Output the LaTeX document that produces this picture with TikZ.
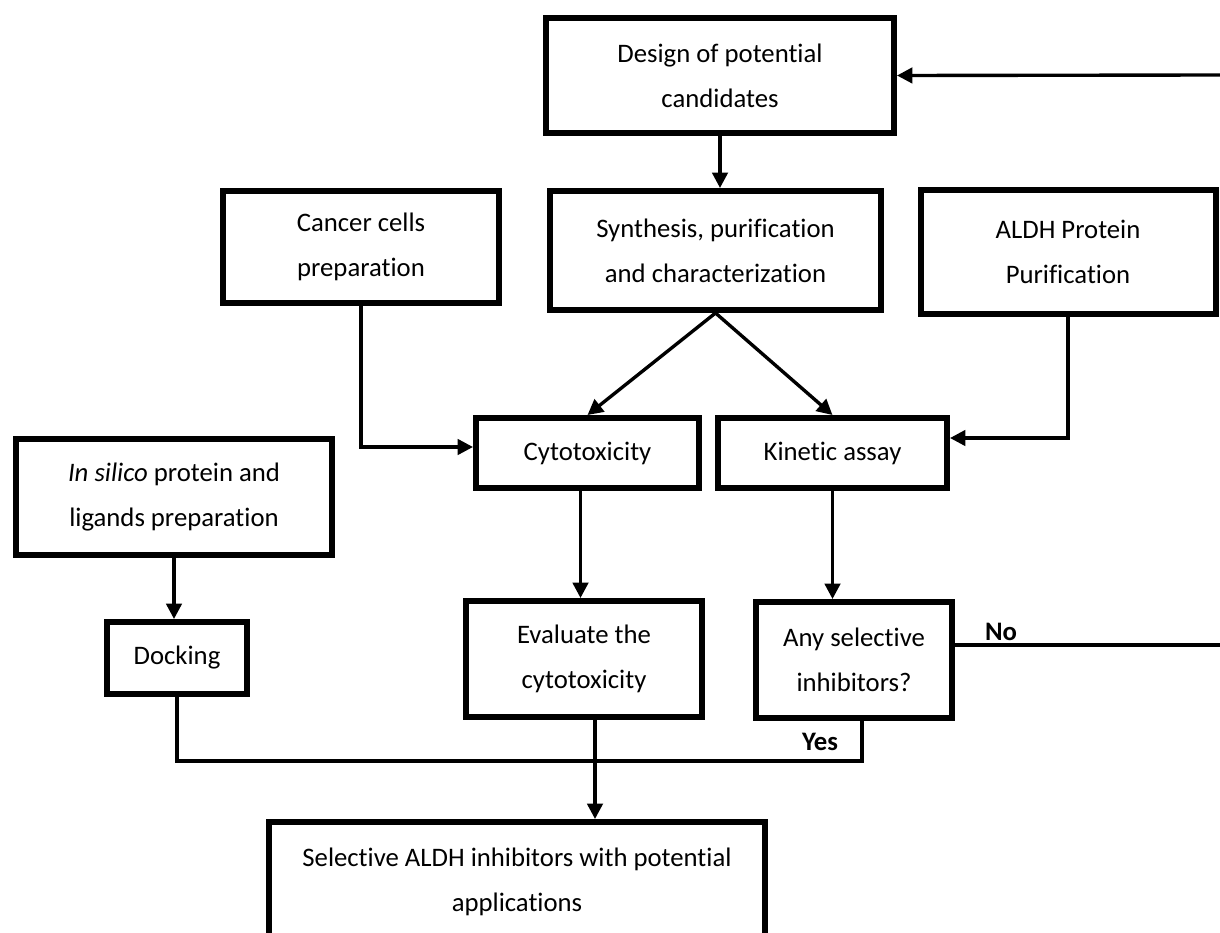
\documentclass[tikz,border=0pt]{standalone}
\usepackage{fontspec}
\setmainfont[Ligatures={NoCommon,NoRare},RawFeature={-liga,-clig,-dlig}]{Carlito}
\usetikzlibrary{arrows.meta,calc}

\tikzset{
  stage/.style={draw, line width=4.25pt, align=center, inner sep=0pt,
    font=\fontsize{19}{32}\selectfont},
  link/.style={line width=2.4pt},
  arr/.style={link, -{Triangle[length=11pt,width=11pt]}},
  tag/.style={font=\fontsize{19}{22}\selectfont\bfseries}
}

\begin{document}
\begin{tikzpicture}[x=0.025cm,y=-0.025cm]
\useasboundingbox (0,0) rectangle (1220,932);

% Boxes
\node[stage, minimum width=348*0.025cm, minimum height=115*0.025cm] (design) at (720,75.5) {Design of potential\\candidates};
\node[stage, minimum width=331*0.025cm, minimum height=119*0.025cm] (synth) at (715.5,250.5) {Synthesis, purification\\and characterization};
\node[stage, minimum width=276*0.025cm, minimum height=112*0.025cm] (cancer) at (361,247) {Cancer cells\\preparation};
\node[stage, minimum width=295*0.025cm, minimum height=124*0.025cm] (aldh) at (1068,252) {ALDH Protein\\Purification};
\node[stage, minimum width=223*0.025cm, minimum height=70*0.025cm] (cyto) at (587.5,453) {Cytotoxicity};
\node[stage, minimum width=229*0.025cm, minimum height=70*0.025cm] (kinetic) at (832.5,453) {Kinetic assay};
\node[stage, minimum width=316*0.025cm, minimum height=116*0.025cm] (insilico) at (174,497) {\textit{In silico} protein and\\ligands preparation};
\node[stage, minimum width=140*0.025cm, minimum height=72*0.025cm] (docking) at (177,658) {Docking};
\node[stage, minimum width=236*0.025cm, minimum height=116*0.025cm] (evaluate) at (584,659) {Evaluate the\\cytotoxicity};
\node[stage, minimum width=196*0.025cm, minimum height=116*0.025cm] (anysel) at (854,660) {Any selective\\inhibitors?};
\node[stage, minimum width=496*0.025cm, minimum height=120*0.025cm] (result) at (517,882) {Selective ALDH inhibitors with potential\\applications};

% Helper points
\coordinate (back) at (1222,75);
\coordinate (cytoout) at ($(cyto.south)+(-7,0)$);
\coordinate (evalout) at ($(evaluate.south)+(11,0)$);
\coordinate (noout) at ($(anysel.east)+(0,-15)$);
\coordinate (noend) at (1222,645);
\coordinate (yesout) at ($(anysel.south)+(8,0)$);
\coordinate (yesturn) at ($(anysel.south)+(8,40)$);

% Connectors
\draw[arr] (back) -- (design.east);
\draw[arr] (design.south) -- (design.south |- synth.north);
\draw[arr] (synth.south) -- (cyto.north);
\draw[arr] (synth.south) -- (kinetic.north);
\draw[arr] (cancer.south) |- ($(cyto.west)+(0,-6)$);
\draw[arr] (aldh.south) |- ($(kinetic.east)+(0,-15)$);
\draw[arr] (cytoout) -- (cytoout |- evaluate.north);
\draw[arr] (kinetic.south) -- (kinetic.south |- anysel.north);
\draw[arr] (insilico.south) -- (insilico.south |- docking.north);
\draw[link] (noout) -- (noend);
\draw[link] (docking.south) |- (yesturn) -- (yesout);
\draw[arr] (evalout) -- (evalout |- result.north);

% Decision labels
\node[tag] (nolabel) at (1001,632) {No};
\node[tag] (yeslabel) at (820,742) {Yes};

\end{tikzpicture}
\end{document}
